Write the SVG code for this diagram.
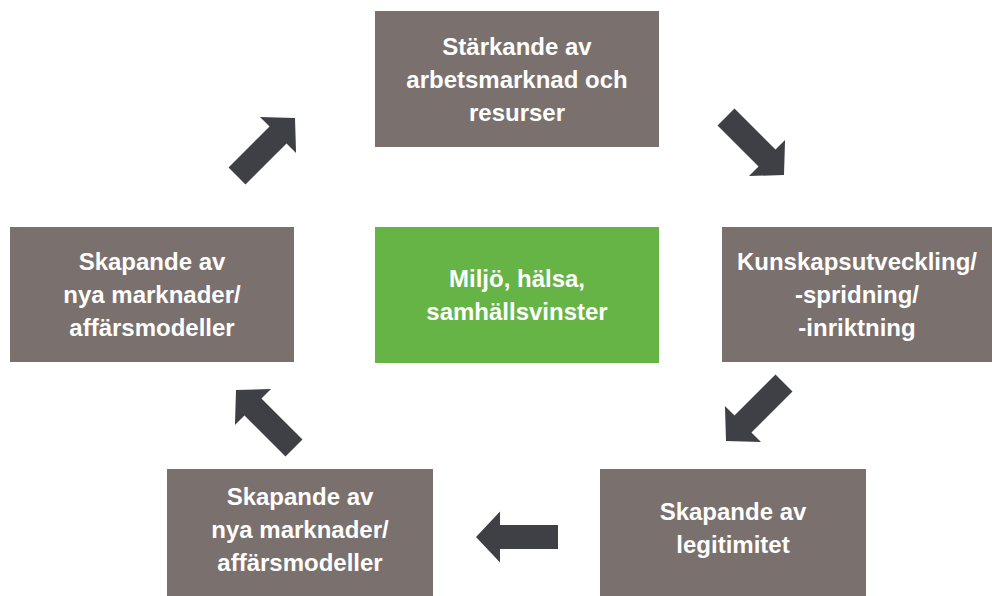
<svg xmlns="http://www.w3.org/2000/svg" width="992" height="596" viewBox="0 0 992 596">
<defs>
<style>
.box{fill:#7a706d}
.green{fill:#66b446}
.t{font-family:"Liberation Sans",Arial,sans-serif;font-weight:bold;font-size:24px;fill:#ffffff;text-anchor:middle}
.arr{fill:#3f4045}
</style>
<polygon id="arrow" points="-41,-12 17,-12 17,-25.5 41,0 17,25.5 17,12 -41,12"/>
</defs>
<rect width="992" height="596" fill="#ffffff"/>
<g id="node-top">
<rect class="box" x="375" y="11" width="284" height="136"/>
<text class="t" x="517" y="55">Stärkande av</text>
<text class="t" x="517" y="88">arbetsmarknad och</text>
<text class="t" x="517" y="121">resurser</text>
</g>
<g id="node-right">
<rect class="box" x="722" y="227" width="270" height="135"/>
<text class="t" x="857" y="270">Kunskapsutveckling/</text>
<text class="t" x="857" y="303">-spridning/</text>
<text class="t" x="857" y="336">-inriktning</text>
</g>
<g id="node-center">
<rect class="green" x="375" y="227" width="284" height="136"/>
<text class="t" x="517" y="287">Miljö, hälsa,</text>
<text class="t" x="517" y="320">samhällsvinster</text>
</g>
<g id="node-left">
<rect class="box" x="10" y="227" width="284" height="135"/>
<text class="t" x="152" y="270">Skapande av</text>
<text class="t" x="152" y="303">nya marknader/</text>
<text class="t" x="152" y="336">affärsmodeller</text>
</g>
<g id="node-bottom-left">
<rect class="box" x="167" y="469" width="266" height="127"/>
<text class="t" x="300" y="505">Skapande av</text>
<text class="t" x="300" y="538">nya marknader/</text>
<text class="t" x="300" y="571">affärsmodeller</text>
</g>
<g id="node-bottom-right">
<rect class="box" x="600" y="469" width="266" height="127"/>
<text class="t" x="733" y="520">Skapande av</text>
<text class="t" x="733" y="553">legitimitet</text>
</g>
<g id="connectors" class="arr">
<use href="#arrow" transform="translate(755,146) rotate(45)"/>
<use href="#arrow" transform="translate(755,412) rotate(135)"/>
<use href="#arrow" transform="translate(517,537) rotate(180)"/>
<use href="#arrow" transform="translate(265,419) rotate(225)"/>
<use href="#arrow" transform="translate(266,147) rotate(-45)"/>
</g>
</svg>
